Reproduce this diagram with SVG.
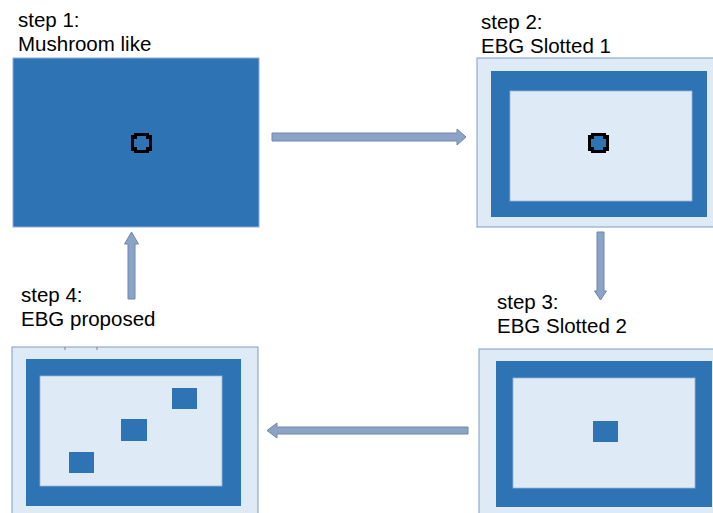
<svg xmlns="http://www.w3.org/2000/svg" width="713" height="513" viewBox="0 0 713 513">
<style>
.lbl{font-family:"Liberation Sans",Arial,sans-serif;font-size:20.5px;fill:#000}
.outer{fill:#DEEBF7;stroke:#7F9CC4;stroke-width:1}
.blue{fill:#2E74B5}
.inner{fill:#DEEBF7;stroke:#9DB5D6;stroke-width:0.8}
.arrow{fill:#8DA3C6;stroke:#6A88B2;stroke-width:1}
</style>
<defs>
<g id="ring">
<path d="M134,133 H149 V135 H152 V151 H149 V153 H134 V151 H131 V135 H134 Z" fill="#000"/>
<path d="M137,136 H146 V139 H149 V147 H146 V150 H137 V147 H134 V139 H137 Z" fill="#2E74B5"/>
</g>
</defs>
<rect width="713" height="513" fill="#fff"/>
<g id="step1">
<rect x="13" y="58" width="246" height="169" fill="#2E74B5" stroke="#8FAADC" stroke-width="1"/>
<use href="#ring"/>
<text class="lbl" x="18" y="27">step 1:</text>
<text class="lbl" x="18" y="50.5">Mushroom like</text>
</g>
<g id="step2">
<rect class="outer" x="477" y="58" width="240" height="169"/>
<rect class="blue" x="491" y="71" width="216" height="146"/>
<rect class="inner" x="510" y="91" width="182" height="110"/>
<use href="#ring" transform="translate(457,0)"/>
<text class="lbl" x="481" y="29">step 2:</text>
<text class="lbl" x="481" y="52.5">EBG Slotted 1</text>
</g>
<g id="step3">
<rect class="outer" x="479" y="349" width="240" height="170"/>
<rect class="blue" x="496" y="361" width="216" height="146"/>
<rect class="inner" x="513" y="378" width="182" height="110"/>
<rect class="blue" x="593" y="421" width="25" height="21"/>
<text class="lbl" x="497" y="309">step 3:</text>
<text class="lbl" x="497" y="332.5">EBG Slotted 2</text>
</g>
<g id="step4">
<rect class="outer" x="12" y="347" width="246" height="172"/>
<rect class="blue" x="26" y="359" width="215" height="147"/>
<rect class="inner" x="40" y="376" width="182" height="110"/>
<rect class="blue" x="172" y="388" width="25" height="21"/>
<rect class="blue" x="121" y="419" width="26" height="22"/>
<rect class="blue" x="69" y="452" width="25" height="21"/>
<line x1="65" y1="347" x2="65" y2="350" stroke="#8C7A6A" stroke-width="1"/>
<line x1="97" y1="347" x2="97" y2="350" stroke="#8C7A6A" stroke-width="1"/>
<text class="lbl" x="21" y="302">step 4:</text>
<text class="lbl" x="21" y="325.5">EBG proposed</text>
</g>
<g id="connectors">
<polygon class="arrow" points="272,133 457,133 457,129 466,137 457,145 457,141 272,141"/>
<polygon class="arrow" points="597,232 604,232 604,291 606.5,291 600.5,300 594.5,291 597,291"/>
<polygon class="arrow" points="468,427 277,427 277,423 267,430.5 277,438 277,434 468,434"/>
<polygon class="arrow" points="128,299 135,299 135,244 138.5,244 131.5,232 124.5,244 128,244"/>
</g>
</svg>
